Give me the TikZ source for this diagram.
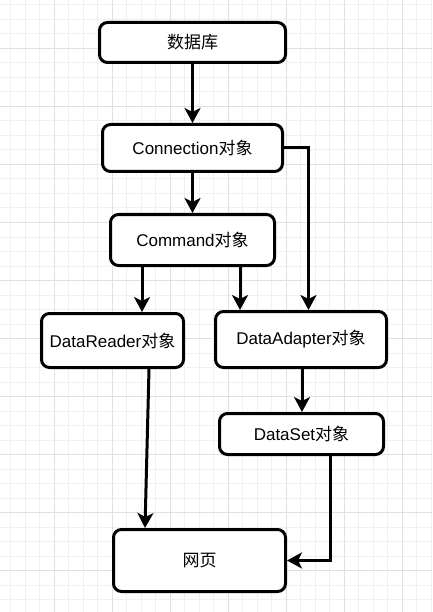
\documentclass[tikz,border=0pt]{standalone}
\usepackage{fontspec}
\setmainfont{Liberation Sans}
\newfontfamily\cjk{Noto Sans CJK SC}
\usetikzlibrary{arrows.meta}
\begin{document}
\begin{tikzpicture}[x=1pt,y=-1pt,
  box/.style={draw=black, line width=3pt, rounded corners=8pt, fill=white,
    align=center, font=\fontsize{17}{20}\selectfont, inner sep=0pt},
  arr/.style={line width=3pt, -{Stealth[length=15pt,width=16pt,inset=4pt]}},
  minorgrid/.style={draw=black!6, line width=1pt},
  majorgrid/.style={draw=black!12, line width=1pt}]
\useasboundingbox (0,0) rectangle (432,612);
\fill[white] (0,0) rectangle (432,612);
% grid
\foreach \i in {0,...,29} { \draw[minorgrid] ({10.8+14.5*\i},0) -- ++(0,612); }
\foreach \i in {0,...,41} { \draw[minorgrid] (0,{5+14.5*\i}) -- ++(432,0); }
\foreach \i in {0,...,6} { \draw[majorgrid] ({54.3+58*\i},0) -- ++(0,612); }
\foreach \i in {0,...,9} { \draw[majorgrid] (0,{48.7+58*\i}) -- ++(432,0); }
% nodes
\node[box, minimum width=186pt, minimum height=40pt] (db) at (192.5,42.5) {{\cjk 数据库}};
\node[box, minimum width=180pt, minimum height=47pt] (conn) at (192.5,148) {Connection{\cjk 对象}};
\node[box, minimum width=164pt, minimum height=51pt] (cmd) at (192.5,240) {Command{\cjk 对象}};
\node[box, minimum width=142pt, minimum height=54pt] (reader) at (112.5,340.5) {DataReader{\cjk 对象}};
\node[box, minimum width=171pt, minimum height=56pt] (adapter) at (301,339.5) {DataAdapter{\cjk 对象}};
\node[box, minimum width=164pt, minimum height=41pt] (dataset) at (301.5,434) {DataSet{\cjk 对象}};
\node[box, minimum width=172pt, minimum height=62pt] (web) at (199.5,560.5) {{\cjk 网页}};
% connectors
\draw[arr] (db.south) -- (conn.north);
\draw[arr] (conn.south) -- (conn.south |- cmd.north);
\draw[arr] (conn.east) -| ([xshift=7.5pt]adapter.north);
\draw[arr] ([xshift=-50.5pt]cmd.south) -- ([xshift=-50.5pt]cmd.south |- reader.north);
\draw[arr] ([xshift=47.5pt]cmd.south) -- ([xshift=47.5pt]cmd.south |- adapter.north);
\draw[arr] ([xshift=36.5pt]reader.south) -- ([xshift=-54.5pt]web.north);
\draw[arr] ([xshift=1pt]adapter.south) -- ([xshift=1pt]adapter.south |- dataset.north);
\draw[arr] ([xshift=28.5pt]dataset.south) |- (web.east);
\end{tikzpicture}
\end{document}
